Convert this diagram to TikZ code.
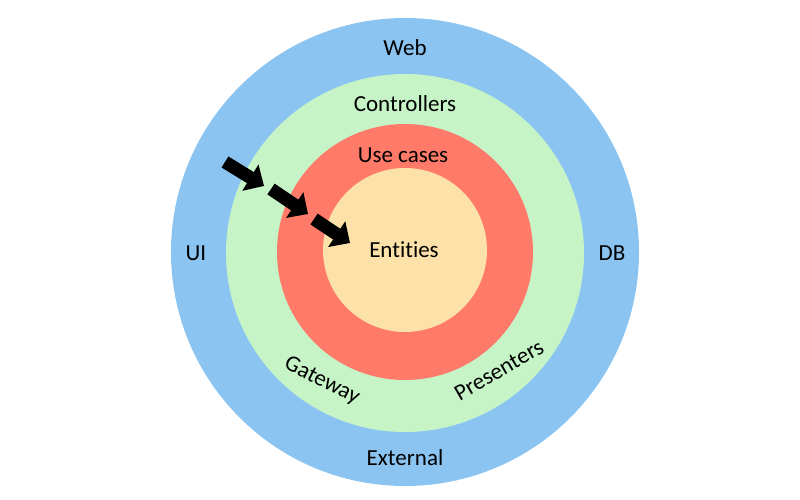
\documentclass[tikz,border=0pt]{standalone}
\usepackage{fontspec}
\setmainfont{Carlito}[Ligatures=NoCommon]
\usetikzlibrary{arrows.meta, positioning}
\definecolor{webblue}{RGB}{139,196,241}
\definecolor{ctrlgreen}{RGB}{199,244,199}
\definecolor{casered}{RGB}{255,122,104}
\definecolor{entyellow}{RGB}{252,225,168}
\tikzset{
    ringnode/.style = {circle, draw=none, inner sep=0em, node distance=0em},
    textnode/.style  = {draw=none, fill=none, rectangle, inner sep=0em,
      font=\fontsize{23}{27}\selectfont},
    bigarrow/.style = {black, line width=13pt, -{Triangle[length=16pt, width=30pt]}}
}
\begin{document}
\begin{tikzpicture}[x=1pt, y=-1pt]
    \useasboundingbox (0,0) rectangle (800,500);
    \node [name=outer, ringnode, fill=webblue, minimum size=468pt] at (405,252) {};
    \node [name=green, ringnode, fill=ctrlgreen, minimum size=358pt] at (405,253) {};
    \node [name=red, ringnode, fill=casered, minimum size=256pt] at (405,252) {};
    \node [name=core, ringnode, fill=entyellow, minimum size=164pt] at (405,250) {};

    \node [name=web, textnode] at (405,48) {Web};
    \node [name=ctrl, textnode] at (405,104) {Controllers};
    \node [name=cases, textnode] at (403,155) {Use cases};
    \node [name=ent, textnode] at (404,250) {Entities};
    \node [name=ui, textnode] at (196,253) {UI};
    \node [name=db, textnode] at (612,253) {DB};
    \node [name=gate, textnode, rotate=-27] at (322,381) {Gateway};
    \node [name=pres, textnode, rotate=30] at (499,370) {Presenters};
    \node [name=ext, textnode] at (405,458) {External};

    \coordinate (a1) at (225,162); \coordinate (b1) at (264,186);
    \coordinate (a2) at (271,189); \coordinate (b2) at (308,214);
    \coordinate (a3) at (314,219); \coordinate (b3) at (350,243);
    \draw [bigarrow] (a1) -- (b1);
    \draw [bigarrow] (a2) -- (b2);
    \draw [bigarrow] (a3) -- (b3);
\end{tikzpicture}
\end{document}
